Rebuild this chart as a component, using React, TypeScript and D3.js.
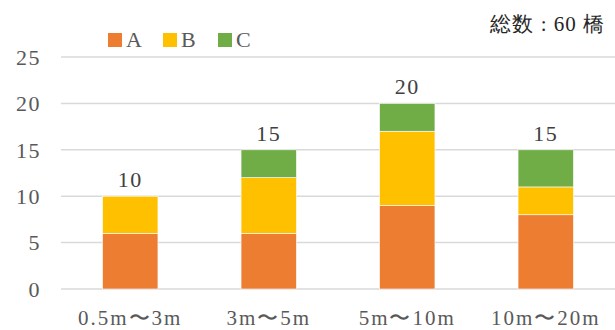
import React from 'react';
import * as d3 from 'd3';

const categories = ['0.5m〜3m', '3m〜5m', '5m〜10m', '10m〜20m'];
const seriesNames = ['A', 'B', 'C'];
const valuesA = [6, 6, 9, 8];
const valuesB = [4, 6, 8, 3];
const valuesC = [0, 3, 3, 4];
const yTicks = [0, 5, 10, 15, 20, 25];
const colors = ['#ED7D31', '#FFC000', '#70AD47'];
const note = '総数 : 60 橋';

const W = 615;
const H = 330;
const margin = { top: 57, right: 0, bottom: 41, left: 61 };
const font = 'Liberation Serif';

export default function App() {
  const rows = categories.map((c, i) => ({ cat: c, A: valuesA[i], B: valuesB[i], C: valuesC[i] }));
  const stack = d3.stack<any>().keys(seriesNames)(rows);

  const x = d3
    .scaleBand()
    .domain(categories)
    .range([margin.left, W - margin.right])
    .paddingInner(0.6)
    .paddingOuter(0.3);

  const y = d3
    .scaleLinear()
    .domain([0, 25])
    .range([H - margin.bottom, margin.top]);

  const totals = categories.map((_, i) => valuesA[i] + valuesB[i] + valuesC[i]);

  return (
    <svg width={W} height={H} style={{ position: 'absolute', left: 0, top: 0 }}>
      {/* grid */}
      {yTicks.map((t) => (
        <g key={t}>
          <line x1={margin.left} x2={W - margin.right} y1={y(t)} y2={y(t)} stroke="#D9D9D9" strokeWidth={1.5} />
          <text x={41} y={y(t)} dy="0.35em" textAnchor="end" fontSize={22} letterSpacing={1.5} fontFamily={font} fill="#595959">
            {t}
          </text>
        </g>
      ))}

      {/* bars */}
      {stack.map((s, si) => (
        <g key={s.key} fill={colors[si]}>
          {s.map((d, i) =>
            d[1] - d[0] > 0 ? (
              <rect
                key={i}
                x={x(categories[i])}
                width={x.bandwidth()}
                y={y(d[1])}
                height={y(d[0]) - y(d[1])}
                stroke="#fff"
                strokeWidth={0.6}
              />
            ) : null
          )}
        </g>
      ))}

      {/* totals */}
      {totals.map((t, i) => (
        <text
          key={i}
          x={(x(categories[i]) as number) + x.bandwidth() / 2}
          y={y(t) - 9}
          textAnchor="middle"
          fontSize={22}
          letterSpacing={1.5}
          fontFamily={font}
          fill="#404040"
        >
          {t}
        </text>
      ))}

      {/* category labels */}
      {categories.map((c) => (
        <text
          key={c}
          x={(x(c) as number) + x.bandwidth() / 2}
          y={325}
          textAnchor="middle"
          fontSize={21}
          letterSpacing={2}
          fontFamily={font}
          fill="#595959"
        >
          {c}
        </text>
      ))}

      {/* legend */}
      {seriesNames.map((n, i) => (
        <g key={n} transform={`translate(${108 + i * 55},33)`}>
          <rect width={14} height={14} fill={colors[i]} />
          <text x={18} y={14} fontSize={22} fontFamily={font} fill="#595959">
            {n}
          </text>
        </g>
      ))}

      <text x={605} y={31} textAnchor="end" fontSize={21} letterSpacing={1} fontFamily={font} fill="#262626">
        {note}
      </text>
    </svg>
  );
}
